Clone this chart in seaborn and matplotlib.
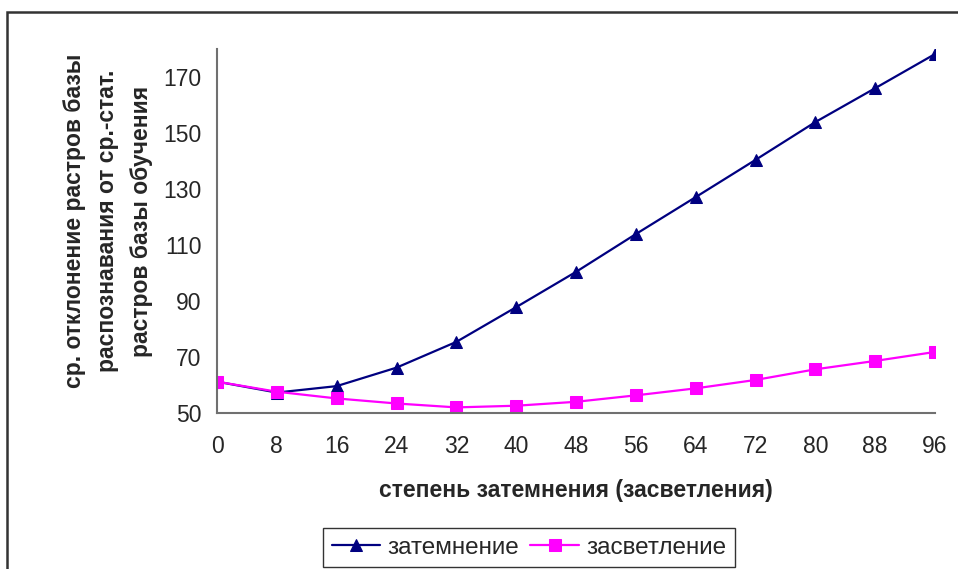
import matplotlib
matplotlib.use("Agg")
import matplotlib.pyplot as plt
import seaborn as sns
import pandas as pd
from matplotlib.patches import Rectangle

x_vals = [0, 8, 16, 24, 32, 40, 48, 56, 64, 72, 80, 88, 96]
zatemnenie = [61.2, 57.3, 59.6, 66.2, 75.4, 87.8, 100.4, 113.9, 127.1, 140.4, 153.9, 166.0, 178.2]
zasvetlenie = [61.2, 57.6, 55.2, 53.4, 52.0, 52.6, 54.0, 56.3, 58.8, 61.8, 65.6, 68.6, 71.8]
series_names = ["затемнение", "засветление"]
y_ticks = [50, 70, 90, 110, 130, 150, 170]

sns.set_style("white")
plt.rcParams['font.family'] = ['Liberation Sans', 'DejaVu Sans']

W, H = 958, 569
fig = plt.figure(figsize=(W / 100, H / 100), dpi=100)
ax = fig.add_axes([217 / W, 1 - 413 / H, (935 - 217) / W, (413 - 49) / H])

df = pd.DataFrame({"x": x_vals * 2,
                   "y": zatemnenie + zasvetlenie,
                   "s": [series_names[0]] * len(x_vals) + [series_names[1]] * len(x_vals)})

sns.lineplot(data=df[df.s == series_names[0]], x="x", y="y", ax=ax, color="#000080",
             marker="^", markersize=8.5, markeredgecolor="#000080", linewidth=1.6,
             label=series_names[0])
sns.lineplot(data=df[df.s == series_names[1]], x="x", y="y", ax=ax, color="#FF00FF",
             marker="s", markersize=8, markeredgecolor="#FF00FF", linewidth=1.6,
             label=series_names[1])

ax.set_xlim(0, 96)
ax.set_ylim(50, 180)
ax.set_xticks(x_vals)
ax.set_yticks(y_ticks)
ax.tick_params(axis='both', which='major', labelsize=16.5, length=5, width=1.3,
               color="#707070", direction='out')
ax.tick_params(axis='x', pad=11)
ax.tick_params(axis='y', pad=6)
for sp in ["top", "right"]:
    ax.spines[sp].set_visible(False)
for sp in ["left", "bottom"]:
    ax.spines[sp].set_color("#707070")
    ax.spines[sp].set_linewidth(1.5)
for sp in ax.spines.values():
    sp.set_clip_on(False)

ax.set_xlabel("степень затемнения (засветления)", fontsize=16.5, fontweight='bold', va='center')
ax.xaxis.set_label_coords(0.5, (413 - 490) / 364)
ax.set_ylabel("ср. отклонение растров базы\nраспознавания от ср.-стат.\nрастров базы обучения",
              fontsize=16.5, fontweight='bold', va='center', ha='center',
              multialignment='center', linespacing=1.6)
ax.yaxis.set_label_coords((108 - 217) / 718, (413 - 221) / 364)

leg = ax.legend(loc='upper center', bbox_to_anchor=(529 / W, 1 - 528 / H),
                bbox_transform=fig.transFigure, ncol=2, fontsize=17.5, frameon=True,
                fancybox=False, edgecolor='black', handlelength=2.0, columnspacing=0.45,
                handletextpad=0.3, borderpad=0.35, borderaxespad=0)
leg.get_frame().set_linewidth(1.0)

fig.patches.append(Rectangle((7 / W, -0.2), 1.5, 1 - 12 / H + 0.2, transform=fig.transFigure,
                             fill=False, edgecolor="#333333", linewidth=1.8, clip_on=False))

fig.savefig("out.png", dpi=100)
